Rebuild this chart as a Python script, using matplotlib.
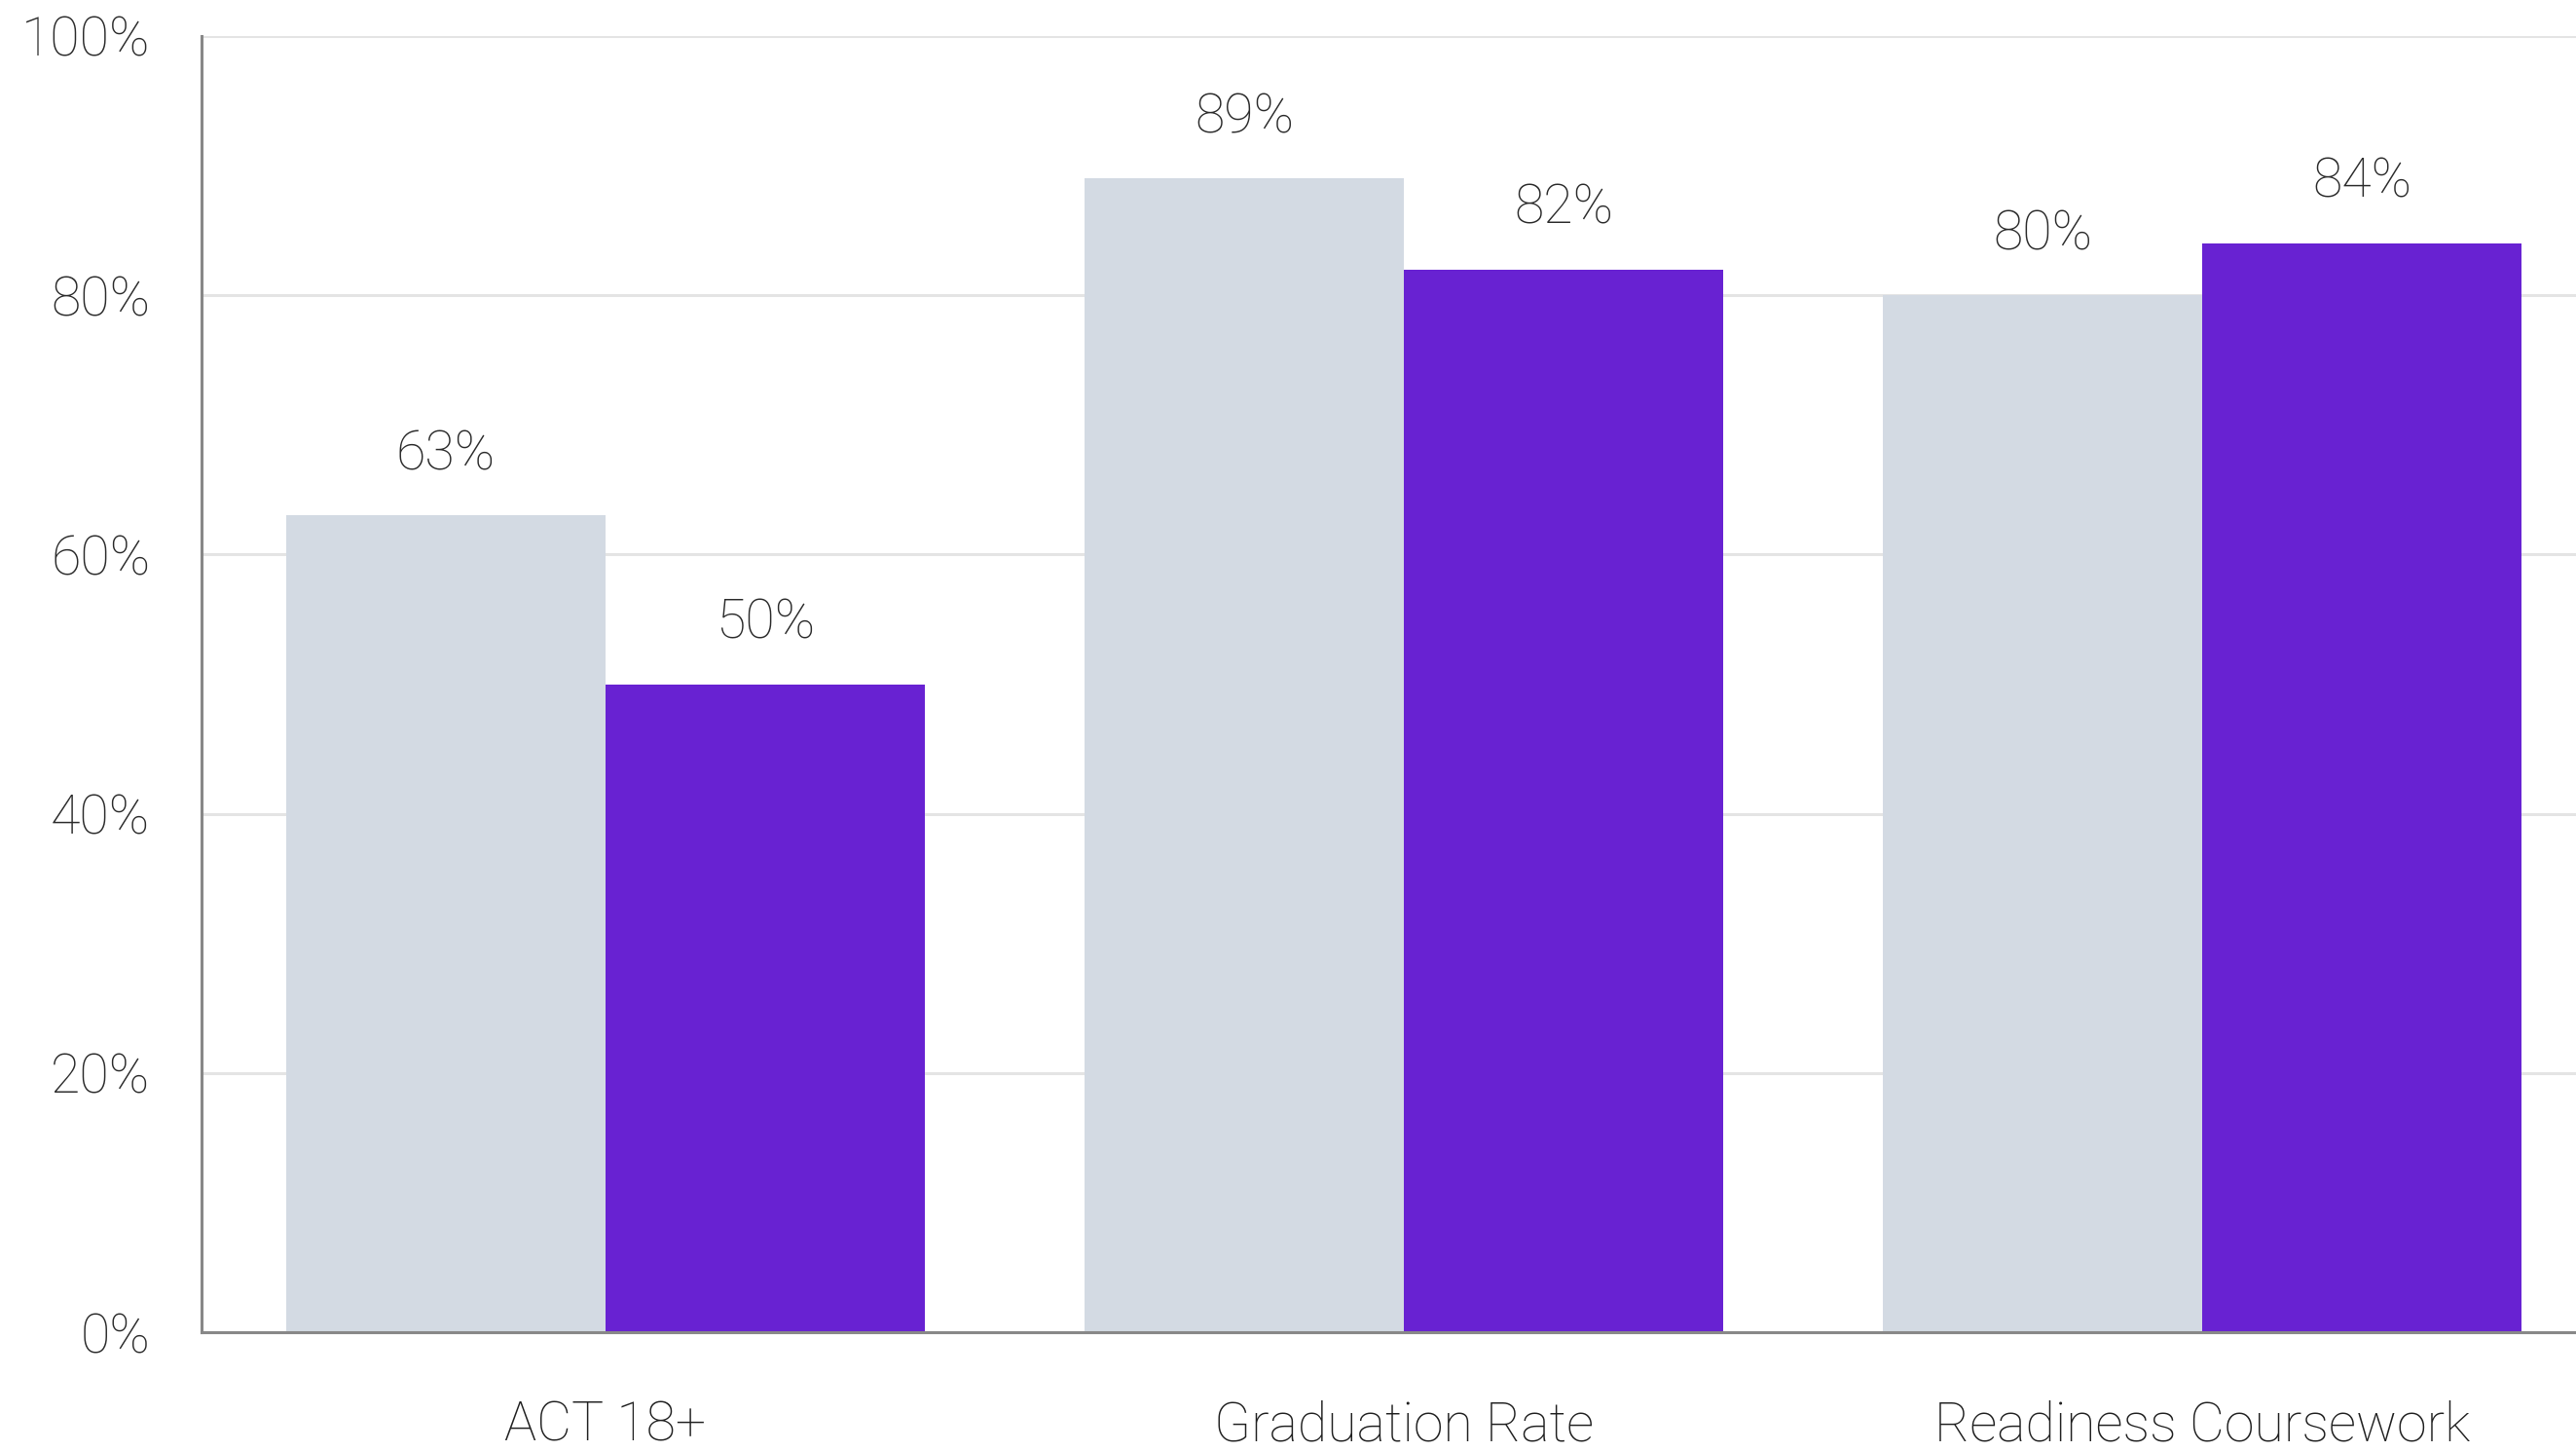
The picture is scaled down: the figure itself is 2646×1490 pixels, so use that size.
import matplotlib.pyplot as plt
import numpy as np

plt.rcParams['font.family'] = ['Roboto', 'DejaVu Sans']

categories = ['ACT 18+', 'Graduation Rate', 'Readiness Coursework']
state_vals = [63, 89, 80]
school_vals = [50, 82, 84]

grey = '#D3DAE3'
purple = '#6822D2'
fs = 40

fig = plt.figure(figsize=(26.46, 14.90), dpi=100)
ax = fig.add_axes([207 / 2646, 1 - 1368 / 1490, 1 - 207 / 2646, 1331 / 1490])

x = np.arange(len(categories))
w = 0.4
b1 = ax.bar(x - w / 2, state_vals, w, color=grey, zorder=3)
b2 = ax.bar(x + w / 2, school_vals, w, color=purple, zorder=3)

# value labels above each bar
for bars, vals in [(b1, state_vals), (b2, school_vals)]:
    for rect, v in zip(bars, vals):
        ax.annotate(f'{v}%', (rect.get_x() + rect.get_width() / 2, v),
                    xytext=(0, 26), textcoords='offset points',
                    ha='center', va='bottom', fontsize=fs,
                    fontweight='light', color='#2a2a2a')

ax.set_xlim(-0.506, 2.468)
ax.set_ylim(0, 100)
ax.set_yticks(range(0, 101, 20))
ax.set_yticklabels([f'{t}%' for t in range(0, 101, 20)], fontweight='light')
ax.set_xticks(x)
ax.set_xticklabels(categories, fontweight='light')

ax.grid(axis='y', color='#E4E4E4', linewidth=2.2, zorder=0)
ax.tick_params(axis='y', length=0, pad=38, labelsize=fs, labelcolor='#2a2a2a')
ax.tick_params(axis='x', length=0, pad=50, labelsize=fs, labelcolor='#1f1f1f')

for s in ['top', 'right']:
    ax.spines[s].set_visible(False)
for s in ['left', 'bottom']:
    ax.spines[s].set_color('#888888')
    ax.spines[s].set_linewidth(2.2)
    ax.spines[s].set_zorder(4)

fig.savefig('out.png', dpi=100)
